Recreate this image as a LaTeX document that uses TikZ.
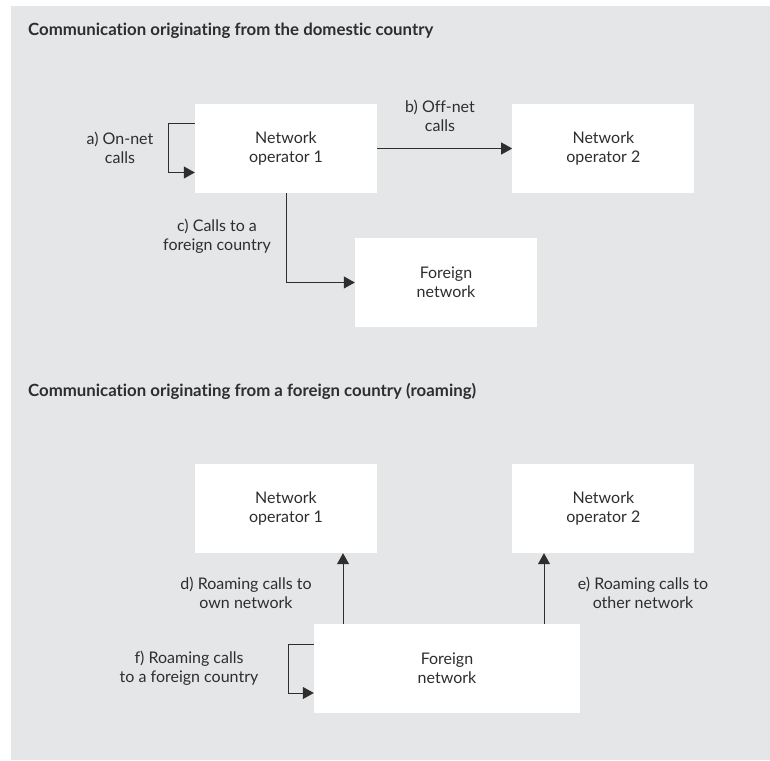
\documentclass[tikz,border=0pt]{standalone}
\usepackage{fontspec}
\setmainfont{Lato}[Ligatures=NoCommon]
\usetikzlibrary{arrows.meta,positioning}
\definecolor{panelgray}{HTML}{E5E6E8}
\definecolor{inkgray}{HTML}{2E2E2E}

\begin{document}
\begin{tikzpicture}
                [x=1pt,y=1pt,
                 box/.style={fill=white,minimum width=182pt,minimum height=89pt,inner sep=0pt,
                             align=center,text=inkgray,font=\fontsize{16}{19}\selectfont},
                 note/.style={align=center,text=inkgray,font=\fontsize{16}{19}\selectfont},
                 heading/.style={anchor=base west,inner sep=0pt,text=inkgray,font=\bfseries\fontsize{16.8}{19}\selectfont},
                 link/.style={-{Triangle[length=11pt,width=12pt]},line width=1pt,draw=inkgray}]

                \useasboundingbox (0,0) rectangle (770,-760);
                \fill[panelgray] (11,-6) rectangle (770,-760);

                % domestic country
                \node[heading] (title 1) at (28,-36) {Communication originating from the domestic country};

                \node[box]  (op 1)      at (286,-148.5)               {Network\\operator 1};
                \node[box]  (op 2)      [right=135pt of op 1]         {Network\\operator 2};
                \node[box]  (foreign 1) at (446,-282.5)               {Foreign\\network};

                \draw[link] ([yshift=25pt]op 1.west) -- ++(-26pt,0) |- ([yshift=-24pt]op 1.west);
                \draw[link] (op 1) -- (op 2);
                \draw[link] (op 1.south) |- (foreign 1.west);

                \node[note] (on net)   at (120,-147.5) {a) On-net\\calls};
                \node[note] (off net)  at (440,-115.5) {b) Off-net\\calls};
                \node[note] (abroad)   at (217,-236)   {c) Calls to a\\foreign country};

                % roaming
                \node[heading] (title 2) at (28,-396) {Communication originating from a foreign country (roaming)};

                \node[box]  (op 1b)     at (286,-508.5)               {Network\\operator 1};
                \node[box]  (op 2b)     [right=135pt of op 1b]        {Network\\operator 2};
                \node[box,minimum width=266pt] (foreign 2) at (447,-668.5) {Foreign\\network};

                \draw[link] ([xshift=-104pt]foreign 2.north) -- ([xshift=-104pt]foreign 2.north |- op 1b.south);
                \draw[link] ([xshift=97pt]foreign 2.north) -- ([xshift=97pt]foreign 2.north |- op 2b.south);
                \draw[link] ([yshift=24.5pt]foreign 2.west) -- ++(-25pt,0) |- ([yshift=-24.5pt]foreign 2.west);

                \node[note] (own net)   at (246,-592.5) {d) Roaming calls to\\own network};
                \node[note] (other net) at (643,-592.5) {e) Roaming calls to\\other network};
                \node[note] (via abroad) at (189,-668.5) {f) Roaming calls\\to a foreign country};

\end{tikzpicture}
\end{document}
